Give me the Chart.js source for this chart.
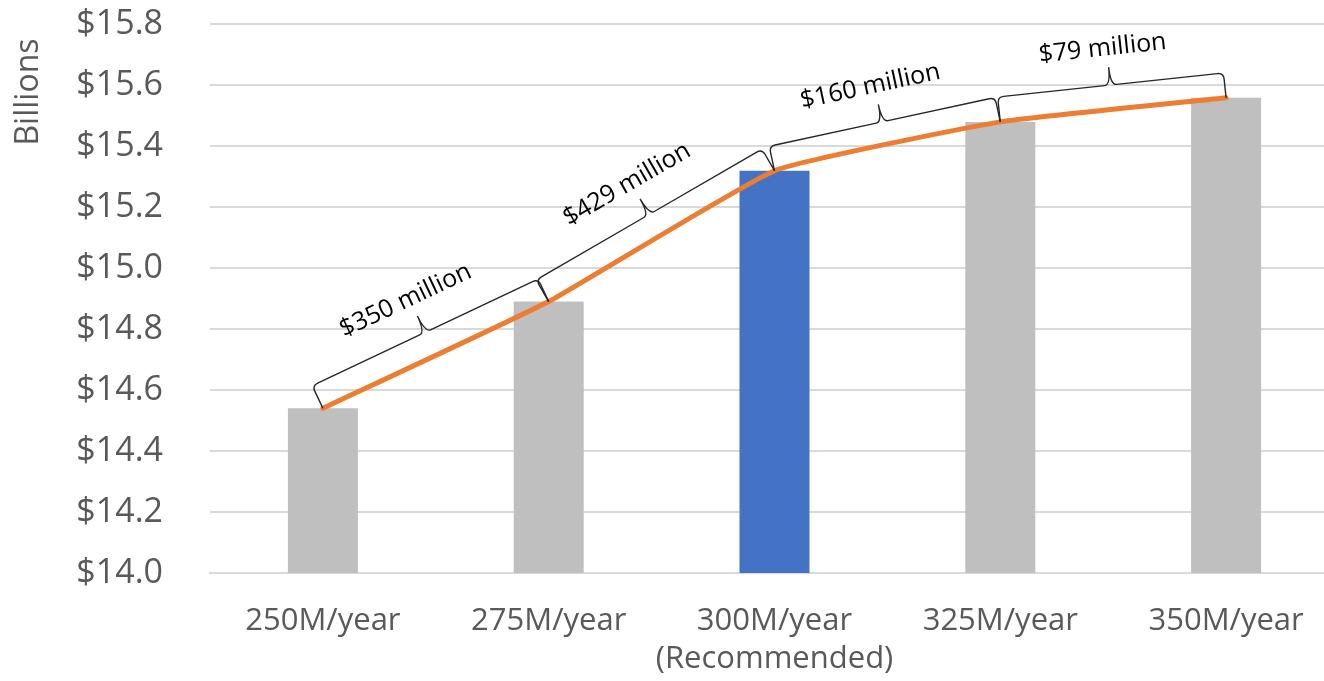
<!DOCTYPE html>
<html>
<head>
<meta charset="utf-8">
<script src="https://cdn.jsdelivr.net/npm/chart.js@4"></script>
<style>
  html, body { margin: 0; padding: 0; background: #fff; overflow: hidden; }
  #wrap { width: 1339px; height: 681px; position: relative; }
</style>
</head>
<body>
<div id="wrap"><canvas id="costChart"></canvas></div>
<script>
// values (billions of dollars)
const categories = ['250M/year', '275M/year', ['300M/year', '(Recommended)'], '325M/year', '350M/year'];
const totals = [14.540, 14.890, 15.319, 15.479, 15.558];
const gapLabels = ['$350 million', '$429 million', '$160 million', '$79 million'];
const yMin = 14.0;
const yMax = 15.8;
const yStep = 0.2;
const recommendedIndex = 2;

const FONT = "'Open Sans', 'Segoe UI', sans-serif";

// curly braces between neighbouring points of the line, with the gap text above
const bracePlugin = {
    id: 'braces',
    afterDatasetsDraw: function (chart) {
        const pts = chart.getDatasetMeta(1).data;
        const ctx = chart.ctx;
        const h = 25, c = 18, r = 6;
        ctx.save();
        for (let i = 0; i < pts.length - 1; i++) {
            const a = pts[i], b = pts[i + 1];
            const dx = b.x - a.x, dy = b.y - a.y;
            const L = Math.sqrt(dx * dx + dy * dy);
            const ang = Math.atan2(dy, dx);
            ctx.save();
            ctx.translate(a.x, a.y);
            ctx.rotate(ang);
            ctx.strokeStyle = '#262626';
            ctx.lineWidth = 1.4;
            ctx.beginPath();
            // left half
            ctx.moveTo(0, 0);
            ctx.lineTo(0, -(h - r));
            ctx.quadraticCurveTo(0, -h, r, -h);
            ctx.lineTo(L / 2 - r, -h);
            ctx.quadraticCurveTo(L / 2, -h, L / 2, -(h + c));
            // right half
            ctx.moveTo(L, 0);
            ctx.lineTo(L, -(h - r));
            ctx.quadraticCurveTo(L, -h, L - r, -h);
            ctx.lineTo(L / 2 + r, -h);
            ctx.quadraticCurveTo(L / 2, -h, L / 2, -(h + c));
            ctx.stroke();
            ctx.fillStyle = '#000';
            ctx.font = '25px ' + FONT;
            ctx.textAlign = 'center';
            ctx.textBaseline = 'middle';
            ctx.fillText(gapLabels[i], L / 2 - 4, -62);
            ctx.restore();
        }
        // axis caption
        ctx.translate(29, 92);
        ctx.rotate(-Math.PI / 2);
        ctx.fillStyle = '#595959';
        ctx.font = '32px ' + FONT;
        ctx.textAlign = 'center';
        ctx.textBaseline = 'middle';
        ctx.fillText('Billions', 0, 0);
        ctx.restore();
    }
};

document.addEventListener("DOMContentLoaded", function () {
    const ctx = document.getElementById("costChart").getContext("2d");

    new Chart(ctx, {
        type: 'bar',
        data: {
            labels: categories,
            datasets: [{
                type: 'bar',
                data: totals,
                backgroundColor: totals.map((v, i) => i === recommendedIndex ? '#4472C4' : '#BFBFBF'),
                categoryPercentage: 1,
                barPercentage: 0.31,
                order: 2
            }, {
                type: 'line',
                data: totals,
                borderColor: '#ED7D31',
                borderWidth: 5,
                pointRadius: 0,
                tension: 0.12,
                borderCapStyle: 'round',
                order: 1
            }]
        },
        options: {
            responsive: true,
            maintainAspectRatio: false,
            animation: false,
            layout: { padding: { top: 24, left: 0, right: 0, bottom: 0 } },
            plugins: {
                legend: { display: false },
                tooltip: { enabled: false }
            },
            scales: {
                x: {
                    grid: { display: false, drawTicks: false },
                    border: { color: '#D9D9D9', width: 2 },
                    ticks: {
                        color: '#595959',
                        font: { family: FONT, size: 31, lineHeight: 1.22 },
                        padding: 29,
                        maxRotation: 0,
                        autoSkip: false
                    },
                    afterFit: function (scale) { scale.height = 108; }
                },
                y: {
                    min: yMin,
                    max: yMax,
                    grid: { color: '#D9D9D9', lineWidth: 2, drawTicks: false },
                    border: { display: false },
                    ticks: {
                        stepSize: yStep,
                        color: '#595959',
                        font: { family: FONT, size: 34 },
                        padding: 47,
                        callback: function (v) { return '$' + v.toFixed(1); }
                    },
                    afterFit: function (scale) {
                        scale.width = 210;
                        scale.paddingTop = 0;
                        scale.paddingBottom = 0;
                    }
                }
            }
        },
        plugins: [bracePlugin]
    });
});
</script>
</body>
</html>
